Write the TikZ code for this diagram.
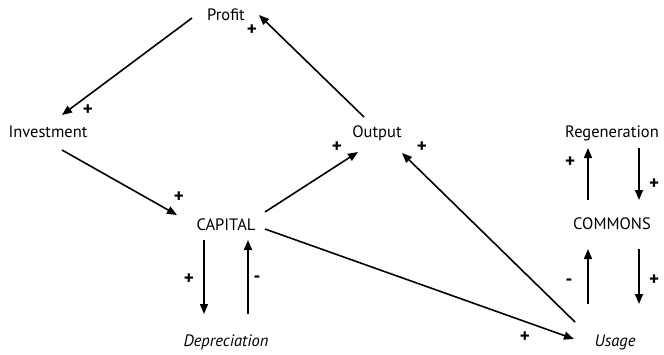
\documentclass[tikz,border=0pt]{standalone}
\usepackage{fontspec}
\setmainfont{PT Sans}
\usetikzlibrary{arrows.meta}
\begin{document}
\begin{tikzpicture}[x=1pt,y=-1pt,
  lbl/.style={inner sep=0pt,font=\fontsize{16.5}{18}\selectfont},
  ilbl/.style={lbl,font=\fontsize{16.5}{18}\selectfont\itshape},
  sgn/.style={inner sep=0pt,font=\fontsize{19}{20}\selectfont\bfseries},
  arr/.style={line width=1.6pt,-{Triangle[length=10pt,width=8pt]}}]
\useasboundingbox (0,0) rectangle (664,354);
\node[lbl] (profit) at (226,15) {Profit};
\node[lbl] (inv) at (48,132) {Investment};
\node[lbl] (out) at (377,133) {Output};
\node[lbl] (regen) at (612,133) {Regeneration};
\node[lbl] (cap) at (226,225) {CAPITAL};
\node[ilbl] (dep) at (226,342) {Depreciation};
\node[lbl] (com) at (612,224) {COMMONS};
\node[ilbl] (use) at (615,342) {Usage};
% connectors
\draw[arr] ([shift={(-34,3)}]profit.center) -- ([shift={(14,-17)}]inv.center);
\draw[arr] ([shift={(14,18)}]inv.center) -- ([shift={(-49,-10)}]cap.center);
\draw[arr] ([shift={(39,-13)}]cap.center) -- ([shift={(-19,19)}]out.center);
\draw[arr] ([shift={(-13,-16)}]out.center) -- ([shift={(33,0)}]profit.center);
\draw[arr] ([shift={(-40,-20)}]use.center) -- ([shift={(25,20)}]out.center);
\draw[arr] ([shift={(39,4)}]cap.center) -- ([shift={(-41,-3)}]use.center);
\draw[arr] ([shift={(-22,15)}]cap.center) -- ([shift={(-22,-28)}]dep.center);
\draw[arr] ([shift={(22,-28)}]dep.center) -- ([shift={(22,15)}]cap.center);
\draw[arr] ([shift={(-24,-24)}]com.center) -- ([shift={(-24,15)}]regen.center);
\draw[arr] ([shift={(27,15)}]regen.center) -- ([shift={(27,-24)}]com.center);
\draw[arr] ([shift={(-27,-38)}]use.center) -- ([shift={(-24,25)}]com.center);
\draw[arr] ([shift={(27,25)}]com.center) -- ([shift={(24,-38)}]use.center);
% signs
\node[sgn] (s1) at (88,110) {+};
\node[sgn] (s2) at (179,197) {+};
\node[sgn] (s3) at (337,147) {+};
\node[sgn] (s4) at (252,30) {+};
\node[sgn] (s5) at (422,147) {+};
\node[sgn] (s6) at (525,337) {+};
\node[sgn] (s7) at (189,279) {+};
\node[sgn] (s8) at (257,279) {-};
\node[sgn] (s9) at (570,162) {+};
\node[sgn] (s10) at (654,184) {+};
\node[sgn] (s11) at (569,282) {-};
\node[sgn] (s12) at (654,280) {+};
\end{tikzpicture}
\end{document}
